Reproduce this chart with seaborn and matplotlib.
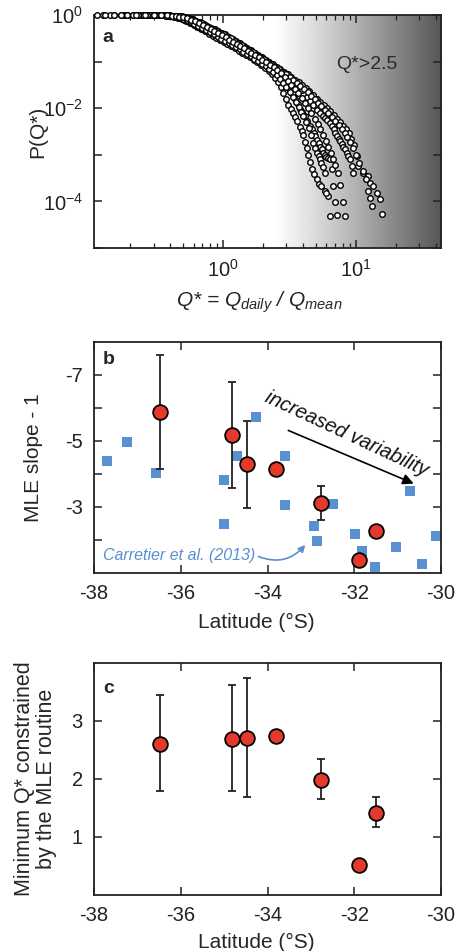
import numpy as np
import pandas as pd
import matplotlib
matplotlib.use("Agg")
import matplotlib.pyplot as plt
import seaborn as sns
from matplotlib.colors import LinearSegmentedColormap
from matplotlib.ticker import FixedLocator, NullFormatter

# ---------------- data ----------------
# Panel a: exceedance probability P(Q*) curves, one per station
qA = [0.112, 0.15, 0.19, 0.24, 0.29, 0.34, 0.37, 0.40, 0.43, 0.46, 0.49, 0.52, 0.555, 0.59, 0.63, 0.67, 0.715,
      0.76, 0.81, 0.865, 0.92, 0.98, 1.04, 1.11, 1.18, 1.26, 1.34, 1.43, 1.52, 1.62, 1.73, 1.84, 1.96, 2.09,
      2.23, 2.38, 2.54, 2.7, 2.88, 3.07, 3.27, 3.48, 3.7, 3.94, 4.2, 4.47, 4.76, 5.06, 5.36, 5.7, 6.05, 6.4,
      6.8, 7.2, 7.6, 8.0, 8.4, 8.8, 9.2, 9.6, 10.1, 10.4, 11.3, 12.4, 12.7, 13.5, 14.3, 15.1, 15.6]
pA = [1, 1, 1, 1, 1, 0.995, 0.99, 0.98, 0.97, 0.955, 0.935, 0.91, 0.87, 0.82, 0.76, 0.7, 0.64, 0.585, 0.535,
      0.49, 0.45, 0.415, 0.385, 0.345, 0.31, 0.275, 0.245, 0.218, 0.195, 0.175, 0.155, 0.138, 0.123, 0.11,
      0.098, 0.087, 0.077, 0.069, 0.061, 0.054, 0.047, 0.041, 0.036, 0.031, 0.027, 0.023, 0.019, 0.016, 0.0138,
      0.0118, 0.0100, 0.0085, 0.0072, 0.0060, 0.0050, 0.0042, 0.0035, 0.0029, 0.0022, 0.0016, 0.00094,
      0.00057, 0.00041, 0.00035, 0.00025, 0.00021, 0.00015, 0.00011, 0.000054]
qB = [0.14, 0.18, 0.23, 0.28, 0.33, 0.36, 0.39, 0.42, 0.45, 0.48, 0.51, 0.545, 0.58, 0.62, 0.66, 0.7, 0.75, 0.8,
      0.85, 0.91, 0.97, 1.03, 1.1, 1.17, 1.25, 1.33, 1.42, 1.51, 1.61, 1.72, 1.83, 1.95, 2.08, 2.22, 2.37, 2.52,
      2.69, 2.87, 3.06, 3.26, 3.47, 3.7, 3.95, 4.26, 4.5, 4.75, 5.06, 5.36, 5.6, 5.8, 6.1, 6.38, 6.6, 6.8, 7.0,
      7.16, 7.4, 7.6, 7.8, 8.0, 8.25, 8.5, 8.75, 9.0, 9.3, 9.5]
pB = [1, 1, 1, 1, 0.995, 0.985, 0.97, 0.955, 0.935, 0.91, 0.88, 0.84, 0.79, 0.73, 0.67, 0.615, 0.56, 0.51,
      0.465, 0.425, 0.39, 0.355, 0.32, 0.29, 0.26, 0.232, 0.207, 0.185, 0.165, 0.147, 0.131, 0.117, 0.103,
      0.091, 0.08, 0.07, 0.061, 0.053, 0.046, 0.04, 0.034, 0.029, 0.024, 0.0175, 0.014, 0.0115, 0.0093, 0.0078,
      0.0069, 0.0062, 0.0055, 0.0049, 0.0042, 0.0036, 0.003, 0.0025, 0.0022, 0.002, 0.0017, 0.0015, 0.0013,
      0.0011, 0.00095, 0.0008, 0.00058, 0.0004]
qC = [0.125, 0.17, 0.21, 0.26, 0.31, 0.355, 0.385, 0.415, 0.445, 0.475, 0.505, 0.54, 0.575, 0.61, 0.65, 0.69,
      0.735, 0.785, 0.84, 0.895, 0.95, 1.01, 1.075, 1.145, 1.22, 1.3, 1.385, 1.475, 1.57, 1.675, 1.785, 1.9,
      2.02, 2.16, 2.3, 2.46, 2.62, 2.79, 2.97, 3.17, 3.38, 3.6, 3.82, 4.07, 4.33, 4.6, 4.9, 5.2, 5.5, 5.85, 6.2,
      6.6, 7.0, 7.4, 7.8, 8.2, 8.6, 9.0, 9.5, 10.0, 10.6, 11.2, 11.8, 12.4, 12.7, 13.1]
pC = [1, 1, 1, 1, 0.995, 0.99, 0.98, 0.97, 0.955, 0.935, 0.91, 0.875, 0.83, 0.78, 0.72, 0.66, 0.605, 0.55, 0.5,
      0.46, 0.42, 0.385, 0.35, 0.315, 0.28, 0.25, 0.222, 0.197, 0.176, 0.157, 0.14, 0.125, 0.111, 0.098, 0.087,
      0.077, 0.068, 0.06, 0.053, 0.046, 0.04, 0.035, 0.03, 0.026, 0.022, 0.0185, 0.0155, 0.013, 0.011, 0.0092,
      0.0077, 0.0064, 0.0053, 0.0044, 0.0036, 0.003, 0.0024, 0.0019, 0.0014, 0.001, 0.00068, 0.00045, 0.0003,
      0.00017, 0.00012, 0.00008]
qD = [0.13, 0.17, 0.21, 0.25, 0.28, 0.31, 0.34, 0.37, 0.4, 0.43, 0.46, 0.49, 0.525, 0.56, 0.6, 0.64, 0.685,
      0.73, 0.78, 0.835, 0.89, 0.95, 1.01, 1.08, 1.15, 1.23, 1.31, 1.4, 1.49, 1.59, 1.7, 1.81, 1.93, 2.06, 2.2,
      2.34, 2.48, 2.6, 2.72, 2.84, 2.97, 3.1, 3.24, 3.38, 3.5, 3.63, 3.79, 3.9, 4.0, 4.14, 4.26, 4.38, 4.5,
      4.64, 4.85, 5.06, 5.3, 5.5, 5.83, 6.2, 6.38]
pD = [1, 1, 1, 1, 1, 0.995, 0.985, 0.97, 0.945, 0.91, 0.865, 0.81, 0.745, 0.68, 0.61, 0.55, 0.495, 0.445, 0.4,
      0.36, 0.325, 0.295, 0.265, 0.24, 0.215, 0.193, 0.173, 0.155, 0.139, 0.124, 0.11, 0.097, 0.085, 0.074,
      0.064, 0.054, 0.045, 0.036, 0.028, 0.021, 0.016, 0.012, 0.0098, 0.0079, 0.0065, 0.0052, 0.004, 0.0033,
      0.0026, 0.0019, 0.0014, 0.001, 0.0007, 0.00049, 0.00038, 0.0003, 0.00024, 0.00021, 0.00017, 0.00013,
      0.000049]
qE = [0.15, 0.19, 0.23, 0.27, 0.3, 0.33, 0.36, 0.39, 0.42, 0.45, 0.48, 0.51, 0.545, 0.585, 0.625, 0.665, 0.71,
      0.76, 0.81, 0.865, 0.925, 0.985, 1.05, 1.12, 1.19, 1.27, 1.355, 1.445, 1.54, 1.645, 1.755, 1.87, 2.0,
      2.13, 2.27, 2.42, 2.57, 2.72, 2.87, 3.03, 3.19, 3.35, 3.5, 3.65, 3.79, 3.95, 4.1, 4.3, 4.51, 4.65, 4.8,
      4.93, 5.06, 5.23, 5.4, 5.55, 5.68, 5.85, 6.0, 6.2, 6.38, 6.55, 6.75, 6.95, 7.2]
pE = [1, 1, 1, 1, 1, 0.99, 0.98, 0.96, 0.935, 0.9, 0.855, 0.8, 0.74, 0.675, 0.615, 0.56, 0.505, 0.455, 0.41,
      0.37, 0.335, 0.303, 0.275, 0.248, 0.224, 0.202, 0.182, 0.164, 0.147, 0.132, 0.118, 0.105, 0.093, 0.082,
      0.072, 0.063, 0.054, 0.046, 0.038, 0.031, 0.025, 0.02, 0.016, 0.0125, 0.0098, 0.0082, 0.0068, 0.0052,
      0.0041, 0.0035, 0.0029, 0.0025, 0.0021, 0.0018, 0.0015, 0.0013, 0.0011, 0.001, 0.0009, 0.00085, 0.0008,
      0.00049, 0.00021, 0.000095, 0.000052]
qF = [0.19, 0.23, 0.27, 0.31, 0.345, 0.375, 0.405, 0.435, 0.465, 0.5, 0.535, 0.57, 0.61, 0.65, 0.695, 0.745,
      0.795, 0.85, 0.91, 0.97, 1.035, 1.1, 1.17, 1.25, 1.33, 1.42, 1.51, 1.61, 1.72, 1.835, 1.96, 2.09, 2.23,
      2.38, 2.53, 2.68, 2.83, 3.0, 3.17, 3.35, 3.52, 3.7, 3.85, 4.0, 4.2, 4.4, 4.6, 4.78, 4.95, 5.1, 5.25, 5.36,
      5.5, 5.65, 5.83, 6.0]
pF = [1, 1, 1, 0.995, 0.985, 0.97, 0.95, 0.92, 0.88, 0.83, 0.77, 0.71, 0.645, 0.585, 0.53, 0.475, 0.425, 0.385,
      0.345, 0.31, 0.28, 0.252, 0.227, 0.204, 0.183, 0.164, 0.147, 0.131, 0.116, 0.103, 0.091, 0.08, 0.07, 0.06,
      0.051, 0.043, 0.035, 0.028, 0.022, 0.017, 0.0135, 0.0105, 0.0083, 0.0067, 0.005, 0.0037, 0.0026, 0.0018,
      0.0014, 0.0011, 0.00095, 0.0008, 0.00068, 0.00055, 0.00041, 0.00015]
qG = [0.22, 0.26, 0.3, 0.34, 0.38, 0.41, 0.44, 0.47, 0.5, 0.535, 0.575, 0.615, 0.66, 0.705, 0.755, 0.805, 0.86,
      0.92, 0.98, 1.045, 1.115, 1.19, 1.27, 1.35, 1.44, 1.535, 1.635, 1.745, 1.86, 1.98, 2.11, 2.25, 2.4, 2.56,
      2.72, 2.9, 3.08, 3.27, 3.47, 3.68, 3.9, 4.13, 4.37, 4.62, 4.9, 5.15, 5.4, 5.68, 5.95, 6.2, 6.45, 6.7, 7.0,
      7.3, 7.6, 8.0, 8.3]
pG = [1, 1, 1, 0.995, 0.985, 0.97, 0.95, 0.925, 0.89, 0.845, 0.79, 0.73, 0.67, 0.61, 0.555, 0.5, 0.45, 0.405,
      0.365, 0.33, 0.298, 0.268, 0.24, 0.215, 0.193, 0.173, 0.155, 0.138, 0.123, 0.109, 0.097, 0.086, 0.075,
      0.065, 0.056, 0.047, 0.039, 0.032, 0.026, 0.021, 0.0165, 0.013, 0.01, 0.0078, 0.006, 0.0046, 0.0035,
      0.0026, 0.002, 0.0015, 0.0011, 0.0008, 0.0006, 0.0004, 0.00022, 0.000095, 0.000049]
curves = {"A": (qA, pA), "B": (qB, pB), "C": (qC, pC), "D": (qD, pD),
          "E": (qE, pE), "F": (qF, pF), "G": (qG, pG)}

# Panels b and c: this study (red circles)
lat = [-36.48, -34.82, -34.48, -33.80, -32.76, -31.49, -31.88]
slope = [-5.87, -5.17, -4.29, -4.15, -3.13, -2.28, -1.40]
slope_lo = [-7.61, -6.78, -5.62, None, -3.64, None, None]
slope_hi = [-4.16, -3.57, -2.98, None, -2.60, None, None]
qmin = [2.61, 2.69, 2.71, 2.74, 1.99, 1.42, 0.52]
qmin_lo = [1.80, 1.79, 1.69, None, 1.65, 1.18, None]
qmin_hi = [3.44, 3.62, 3.75, None, 2.34, 1.69, None]

# Carretier et al. (2013) (blue squares)
carr_lat = [-37.71, -37.23, -36.58, -34.26, -34.71, -35.0, -35.0, -33.6, -33.6, -32.92, -32.86, -32.5,
            -31.98, -31.82, -31.52, -31.04, -30.72, -30.44, -30.12]
carr_slope = [-4.40, -4.96, -4.02, -5.72, -4.56, -3.81, -2.49, -4.54, -3.06, -2.43, -1.97, -3.09,
              -2.17, -1.68, -1.17, -1.80, -3.48, -1.27, -2.11]

# ---------------- style ----------------
sns.set_theme(style="ticks")
plt.rcParams["font.family"] = ["Liberation Sans", "DejaVu Sans"]
plt.rcParams["mathtext.fontset"] = "custom"
plt.rcParams["mathtext.rm"] = "Liberation Sans"
plt.rcParams["mathtext.it"] = "Liberation Sans:italic"
plt.rcParams["mathtext.default"] = "regular"
plt.rcParams["axes.unicode_minus"] = False

TICK_FS = 14.5
LAB_FS = 15
RED = "#e53a2b"
BLUE = "#5a8fd2"

fig = plt.figure(figsize=(4.65, 9.51), dpi=100)
L, W = 94 / 465, 347 / 465
axa = fig.add_axes([L, 1 - 248 / 951, W, 233 / 951])
axb = fig.add_axes([L, 1 - 573 / 951, W, 231 / 951])
axc = fig.add_axes([L, 1 - 895 / 951, W, 232 / 951])


def style_axes(ax):
    for s in ax.spines.values():
        s.set_linewidth(1.3)
        s.set_color("#222222")
    ax.tick_params(which="both", direction="in", top=True, right=True, colors="#222222",
                   labelcolor="#222222", labelsize=TICK_FS, pad=8)
    ax.tick_params(which="major", length=6, width=1.1)
    ax.tick_params(which="minor", length=3.5, width=0.9)


# ---------------- panel a ----------------
rows = []
for name, (q, p) in curves.items():
    for qi, pi in zip(q, p):
        rows.append((name, qi, pi))
dfa = pd.DataFrame(rows, columns=["station", "Q", "P"])

xmin, xmax = 0.107, 43.6
axa.set_xscale("log")
axa.set_yscale("log")
axa.set_xlim(xmin, xmax)
axa.set_ylim(1e-5, 1.0)
axa.set_autoscale_on(False)

f0 = (np.log10(2.5) - np.log10(xmin)) / (np.log10(xmax) - np.log10(xmin))
grad_cmap = LinearSegmentedColormap.from_list("g", ["#ffffff", "#cbcccd", "#909193", "#555658"])
axa.imshow(np.linspace(0, 1, 256)[None, :], cmap=grad_cmap, aspect="auto",
           extent=[f0, 1, 0, 1], transform=axa.transAxes, zorder=0, interpolation="bicubic")

sns.scatterplot(data=dfa, x="Q", y="P", ax=axa, color="white", edgecolor="black",
                s=16, linewidth=1.0, legend=False, clip_on=False, zorder=3)

axa.xaxis.set_major_locator(FixedLocator([1, 10]))
axa.set_xticklabels([r"$10^{0}$", r"$10^{1}$"])
minors = [v * d for d in (0.1, 1, 10) for v in range(2, 10)]
axa.xaxis.set_minor_locator(FixedLocator([m for m in minors if xmin < m < xmax]))
axa.xaxis.set_minor_formatter(NullFormatter())
axa.yaxis.set_major_locator(FixedLocator([1e-5, 1e-4, 1e-3, 1e-2, 1e-1, 1]))
axa.set_yticklabels(["", r"$10^{-4}$", "", r"$10^{-2}$", "", r"$10^{0}$"])
axa.yaxis.set_minor_locator(FixedLocator([]))
style_axes(axa)
axa.set_xlabel(r"$\it{Q}$* = $\it{Q_{daily}}$ / $\it{Q_{mean}}$", fontsize=LAB_FS, style="italic")
axa.set_ylabel("P(Q*)", fontsize=LAB_FS)
axa.xaxis.set_label_coords(0.477, -0.18)
axa.yaxis.set_label_coords(-0.135, 0.5)
axa.text(12, 0.085, "Q*>2.5", fontsize=14, ha="center", va="center", color="#2a2a2a", zorder=4)
axa.text(0.025, 0.905, "a", transform=axa.transAxes, fontsize=14, fontweight="bold", ha="left", va="center")

# ---------------- panel b ----------------
dfb = pd.DataFrame({"lat": lat, "slope": slope, "lo": slope_lo, "hi": slope_hi})
dfc = pd.DataFrame({"lat": carr_lat, "slope": carr_slope})

sns.scatterplot(data=dfc, x="lat", y="slope", ax=axb, marker="s", s=50, color=BLUE, linewidth=0,
                legend=False, zorder=2)
eb = dfb.dropna(subset=["lo"])
axb.errorbar(eb["lat"], eb["slope"], yerr=[eb["slope"] - eb["lo"], eb["hi"] - eb["slope"]],
             fmt="none", ecolor="#222222", elinewidth=1.3, capsize=2.6, capthick=1.3, zorder=3)
sns.scatterplot(data=dfb, x="lat", y="slope", ax=axb, s=112, color=RED, edgecolor="black",
                linewidth=1.3, legend=False, zorder=4)
axb.set_xlim(-38, -30)
axb.set_ylim(-1, -8)
axb.set_xticks([-38, -36, -34, -32, -30])
axb.set_yticks([-7, -6, -5, -4, -3, -2])
axb.set_yticklabels(["-7", "", "-5", "", "-3", ""])
style_axes(axb)
axb.set_xlabel("Latitude (°S)", fontsize=LAB_FS)
axb.set_ylabel("MLE slope - 1", fontsize=LAB_FS)
axb.xaxis.set_label_coords(0.467, -0.175)
axb.yaxis.set_label_coords(-0.147, 0.5)
axb.text(0.026, 0.926, "b", transform=axb.transAxes, fontsize=14, fontweight="bold", ha="left", va="center")
axb.annotate("", xy=(-30.63, -3.71), xytext=(-33.52, -5.32),
             arrowprops=dict(arrowstyle="-|>", color="black", lw=1.2, mutation_scale=16,
                             shrinkA=0, shrinkB=0), zorder=5)
axb.text(-32.17, -5.2, "increased variability", fontsize=14.5, style="italic", rotation=-25,
         ha="center", va="center", rotation_mode="anchor", color="#111111")
axb.text(-37.8, -1.54, "Carretier et al. (2013)", fontsize=11.5, style="italic", color=BLUE,
         ha="left", va="center")
axb.annotate("", xy=(-33.13, -1.85), xytext=(-34.21, -1.50),
             arrowprops=dict(arrowstyle="-|>", color=BLUE, lw=1.2, mutation_scale=10,
                             shrinkA=0, shrinkB=0, connectionstyle="arc3,rad=0.35"))

# ---------------- panel c ----------------
dfq = pd.DataFrame({"lat": lat, "qmin": qmin, "lo": qmin_lo, "hi": qmin_hi})
ec = dfq.dropna(subset=["lo"])
axc.errorbar(ec["lat"], ec["qmin"], yerr=[ec["qmin"] - ec["lo"], ec["hi"] - ec["qmin"]],
             fmt="none", ecolor="#222222", elinewidth=1.3, capsize=2.6, capthick=1.3, zorder=3)
sns.scatterplot(data=dfq, x="lat", y="qmin", ax=axc, s=112, color=RED, edgecolor="black",
                linewidth=1.3, legend=False, zorder=4)
axc.set_xlim(-38, -30)
axc.set_ylim(0, 4)
axc.set_xticks([-38, -36, -34, -32, -30])
axc.set_yticks([1, 2, 3])
style_axes(axc)
axc.set_xlabel("Latitude (°S)", fontsize=LAB_FS)
axc.set_ylabel("Minimum Q* constrained\nby the MLE routine", fontsize=15.5, linespacing=1.05)
axc.xaxis.set_label_coords(0.467, -0.165)
axc.yaxis.set_label_coords(-0.107, 0.5)
axc.text(0.026, 0.892, "c", transform=axc.transAxes, fontsize=14, fontweight="bold", ha="left", va="center")

fig.savefig("out.png", dpi=100)
